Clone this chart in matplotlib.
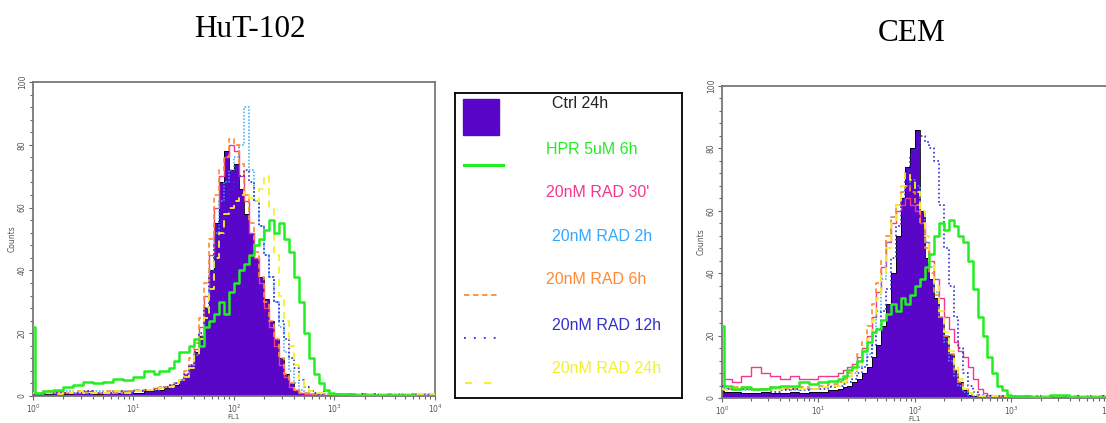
import numpy as np
import matplotlib
matplotlib.use('Agg')
import matplotlib.pyplot as plt
from matplotlib.patches import Rectangle
from matplotlib.ticker import MultipleLocator, LogLocator, NullFormatter

# FL1 channel positions (log10 of intensity)
fl1_log = [0.0, 0.02, 0.1, 0.2, 0.3, 0.4, 0.5, 0.6, 0.7, 0.8, 0.9, 1.0, 1.1, 1.2,
           1.25, 1.3, 1.35, 1.4, 1.45, 1.5, 1.55, 1.6, 1.65, 1.7, 1.75, 1.8, 1.85, 1.9, 1.95,
           2.0, 2.05, 2.1, 2.15, 2.2, 2.25, 2.3, 2.35, 2.4, 2.45, 2.5, 2.55, 2.6, 2.65, 2.7,
           2.75, 2.8, 2.85, 2.9, 2.95, 3.0,
           3.2, 3.4, 3.6, 3.8, 4.0]

labels = ['Ctrl 24h', 'HPR 5uM 6h', "20nM RAD 30'", '20nM RAD 2h',
          '20nM RAD 6h', '20nM RAD 12h', '20nM RAD 24h']
titles = ['HuT-102', 'CEM']

# HuT-102 counts
hut_ctrl = [1, 1, 0.5, 1, 0.5, 1, 1, 0.5, 1, 1, 1.5, 1, 1.5, 2,
            2, 2.5, 3, 3.5, 5, 7, 10, 14, 19, 28, 40, 55, 68, 78, 72,
            74, 66, 58, 52, 44, 38, 31, 24, 18, 12, 7, 4, 2, 1, 0.5, 0.5, 0.3, 0.3, 0.2, 0.2, 0.2,
            0.2, 0.1, 0.1, 0.1, 0.1]
hut_hpr = [22, 1, 1.5, 2, 3, 3.5, 4.5, 4, 4.5, 5.5, 5, 6, 8, 7,
           8, 8, 9, 11, 14, 14, 16, 18, 16, 22, 24, 26, 30, 26, 33,
           36, 40, 42, 45, 48, 50, 53, 56, 52, 55, 50, 46, 38, 30, 20, 12, 7, 4, 2, 1, 0.5,
           0.3, 0.2, 0.2, 0.1, 0.1]
hut_30m = [1, 1, 1, 1.5, 1, 1, 1.5, 1, 1, 1.5, 1.5, 2, 2, 2.5,
           3, 3, 3.5, 4, 5, 7, 10, 15, 22, 32, 45, 60, 70, 76, 80,
           78, 70, 62, 52, 44, 36, 28, 22, 16, 10, 6, 3, 2, 1, 0.5, 0.5, 0.5, 0.3, 0.3, 0.3, 0.3,
           0.3, 0.3, 0.3, 0.2, 0.2]
hut_2h = [1, 0.5, 1, 1, 1.5, 1, 1, 1.5, 1, 1, 1.5, 1.5, 2, 2,
          2.5, 3, 3, 4, 5, 6, 9, 13, 19, 28, 40, 52, 62, 68, 72,
          76, 80, 92, 72, 62, 54, 45, 38, 30, 22, 14, 8, 4, 2, 1, 0.5, 0.5, 0.5, 0.5, 0.5, 0.5,
          0.5, 0.5, 0.5, 0.5, 0.3]
hut_6h = [1, 1, 1.5, 1, 1, 1.5, 1, 1, 1.5, 1, 1.5, 2, 2, 2.5,
          3, 3, 3.5, 4, 5, 8, 12, 17, 25, 36, 50, 64, 72, 76, 82,
          80, 74, 64, 55, 46, 38, 30, 24, 18, 12, 7, 4, 2, 1, 1, 0.5, 0.5, 0.5, 0.5, 0.5, 0.5,
          0.5, 0.5, 0.5, 0.5, 0.5]
hut_12h = [1, 1, 0.5, 1, 1, 1, 1.5, 1, 1, 1.5, 1, 1.5, 2, 2,
           2.5, 3, 3.5, 4, 5, 7, 10, 14, 20, 28, 38, 48, 56, 62, 66,
           68, 70, 72, 68, 62, 54, 45, 38, 30, 24, 18, 12, 9, 5, 3, 1.5, 1, 0.5, 1.5, 0.5, 0.5,
           0.5, 0.3, 0.3, 0.3, 0.3]
hut_24h = [1, 1, 1, 0.5, 1, 1.5, 1, 1, 1, 1.5, 1, 1.5, 2, 2,
           2.5, 3, 3, 4, 5, 6, 9, 13, 18, 25, 34, 44, 52, 58, 60,
           62, 64, 65, 63, 62, 66, 70, 60, 45, 32, 24, 16, 10, 5, 3, 1.5, 1, 1, 0.5, 0.5, 0.5,
           0.5, 0.5, 0.5, 0.5, 0.5]

# CEM counts
cem_ctrl = [3, 2, 2, 1.5, 1.5, 2, 1.5, 1.5, 2, 1.5, 2, 2, 2.5, 3,
            3.5, 4, 5, 6, 8, 10, 13, 17, 23, 30, 40, 52, 64, 74, 80,
            86, 60, 45, 38, 32, 26, 20, 14, 9, 5, 2.5, 1, 0.5, 0.3, 0.3, 0.2, 0.2, 0.2, 0.2, 0.2, 0.2,
            0.2, 0.2, 0.1, 0.1, 0.1]
cem_hpr = [23, 4, 3, 3.5, 3, 3, 3.5, 4, 4, 5, 4.5, 5, 5.5, 6,
           7, 9, 10, 12, 15, 18, 21, 22, 25, 27, 30, 28, 32, 30, 33,
           36, 38, 42, 46, 52, 56, 54, 57, 55, 52, 50, 44, 35, 26, 20, 13, 8, 4, 2.5, 1, 0.5,
           0.3, 1, 0.3, 0.2, 0.2]
cem_30m = [8, 6, 5, 7, 10, 8, 7, 6, 7, 6, 6, 7, 7, 8,
           9, 10, 11, 13, 16, 20, 26, 34, 42, 50, 56, 60, 62, 64, 62,
           60, 56, 50, 44, 38, 32, 26, 22, 18, 15, 13, 10, 6, 3, 1.5, 1, 0.5, 0.5, 0.3, 0.3, 0.3,
           0.3, 0.3, 0.2, 0.2, 0.2]
cem_2h = [3, 3, 3, 2.5, 3, 2.5, 3, 3, 2.5, 3, 3, 3.5, 4, 5,
          6, 7, 8, 10, 12, 14, 20, 28, 38, 50, 58, 62, 66, 68, 70,
          68, 60, 50, 42, 34, 26, 18, 12, 7, 4, 2, 1, 0.5, 0.5, 0.3, 0.3, 0.3, 0.3, 0.3, 0.3, 0.3,
          0.3, 0.3, 0.3, 0.3, 0.3]
cem_6h = [4, 3, 3.5, 3, 2.5, 3, 3.5, 3, 3, 3.5, 3, 4, 4.5, 5,
          6, 8, 10, 14, 18, 23, 30, 37, 44, 52, 58, 62, 66, 68, 66,
          62, 56, 48, 40, 33, 26, 20, 14, 9, 5, 3, 1.5, 1, 0.5, 0.5, 0.5, 0.5, 0.5, 0.5, 0.5, 0.5,
          0.5, 0.5, 0.5, 0.5, 0.5]
cem_12h = [4, 3, 2.5, 3, 2.5, 3, 2, 2.5, 3, 2.5, 3, 3, 3.5, 4,
           4.5, 5, 6, 8, 10, 13, 17, 22, 28, 35, 45, 55, 64, 72, 78,
           80, 84, 82, 80, 76, 62, 48, 36, 26, 16, 8, 4, 2, 1, 0.5, 0.5, 0.5, 0.5, 0.5, 0.5, 0.5,
           0.5, 0.5, 0.5, 0.5, 0.5]
cem_24h = [3, 2.5, 3, 3.5, 3, 3, 2.5, 3, 3.5, 3, 3, 3.5, 4, 4,
           5, 7, 9, 11, 15, 19, 25, 32, 40, 48, 56, 62, 68, 72, 70,
           66, 60, 52, 44, 36, 28, 21, 15, 10, 6, 3, 1.5, 1, 0.5, 0.5, 0.5, 0.5, 0.5, 0.5, 0.5, 0.5,
           0.5, 0.5, 0.5, 0.5, 0.5]

purple = '#5a06c8'
colors = {'hpr': '#22ee22', '30m': '#f2388f', '2h': '#33a8ff',
          '6h': '#ff8a33', '12h': '#3030cc', '24h': '#f4f030'}
text_colors = ['#222222', '#22ee22', '#f2388f', '#33a8ff', '#ff8a33', '#3030cc', '#f4f030']

fl1 = 10 ** np.array(fl1_log)

fig = plt.figure(figsize=(11.06, 4.23), dpi=100)


def draw_panel(ax, ctrl, hpr, m30, h2, h6, h12, h24):
    ax.fill_between(fl1, ctrl, step='post', color=purple, lw=0, zorder=2)
    ax.step(fl1, ctrl, where='post', color='black', lw=0.6, zorder=2.5)
    ax.step(fl1, m30, where='post', color=colors['30m'], lw=1.0, zorder=3)
    ax.step(fl1, h2, where='post', color=colors['2h'], lw=1.1, ls=(0, (1, 1.2)), zorder=3)
    ax.step(fl1, h6, where='post', color=colors['6h'], lw=1.2, ls=(0, (3, 2)), zorder=3)
    ax.step(fl1, h12, where='post', color=colors['12h'], lw=1.2, ls=(0, (1, 1.5)), zorder=3)
    ax.step(fl1, h24, where='post', color=colors['24h'], lw=1.3, ls=(0, (4, 3)), zorder=3)
    ax.step(fl1, hpr, where='post', color=colors['hpr'], lw=1.8, zorder=4)
    ax.set_xscale('log')
    ax.set_xlim(1, 1e4)
    ax.set_ylim(0, 100)
    ax.yaxis.set_major_locator(MultipleLocator(20))
    ax.yaxis.set_minor_locator(MultipleLocator(4))
    ax.xaxis.set_major_locator(LogLocator(base=10, numticks=10))
    ax.xaxis.set_minor_locator(LogLocator(base=10, subs=np.arange(2, 10), numticks=20))
    ax.xaxis.set_minor_formatter(NullFormatter())
    ax.tick_params(which='both', direction='out', colors='#666666', labelsize=5.5,
                   labelcolor='#555555', width=0.8, pad=1.5)
    ax.tick_params(which='major', length=3)
    ax.tick_params(which='minor', length=2)
    for lab in ax.get_yticklabels():
        lab.set_rotation(90)
        lab.set_va('center')
    for s in ax.spines.values():
        s.set_color('#777777')
        s.set_linewidth(1.3)
    ax.set_ylabel('Counts', fontsize=5.5, color='#555555', labelpad=1)
    ax.set_xlabel('FL1', fontsize=5, color='#555555', labelpad=-0.5)


ax1 = fig.add_axes([0.0298, 0.0638, 0.3635, 0.7423])
draw_panel(ax1, hut_ctrl, hut_hpr, hut_30m, hut_2h, hut_6h, hut_12h, hut_24h)

ax2 = fig.add_axes([0.6528, 0.0591, 0.349, 0.7376])
draw_panel(ax2, cem_ctrl, cem_hpr, cem_30m, cem_2h, cem_6h, cem_12h, cem_24h)

fig.text(250 / 1106, 1 - 37 / 423, titles[0], family='Liberation Serif', fontsize=22.5,
         ha='center', va='baseline')
fig.text(912 / 1106, 1 - 41 / 423, titles[1], family='Liberation Serif', fontsize=22.5,
         ha='center', va='baseline')

# legend box
leg = fig.add_axes([455 / 1106, 25 / 423, 227 / 1106, 305 / 423])
leg.set_xlim(0, 227)
leg.set_ylim(305, 0)
leg.set_xticks([])
leg.set_yticks([])
for s in leg.spines.values():
    s.set_color('black')
    s.set_linewidth(1.3)
leg.add_patch(Rectangle((8, 6), 35.5, 36.5, color=purple))
leg.plot([9, 47.5], [72, 72], color=colors['hpr'], lw=2.2)
leg.plot([9, 44], [202, 202], color=colors['6h'], lw=1.3, ls=(0, (3, 2)))
leg.plot([9, 42], [245, 245], color=colors['12h'], lw=1.3, ls=(0, (1, 4.5)))
leg.plot([10, 37], [289.5, 289.5], color=colors['24h'], lw=1.5, ls=(0, (3.4, 5.8)))
text_pos = [(96.5, 11), (91, 56), (91.5, 99), (96.5, 143), (91.5, 187), (96.5, 232), (96.5, 275)]
for lab, c, (tx, ty) in zip(labels, text_colors, text_pos):
    leg.text(tx, ty, lab, color=c, family='Liberation Sans', fontsize=11.5,
             ha='left', va='center')

fig.savefig('out.png', dpi=100)
